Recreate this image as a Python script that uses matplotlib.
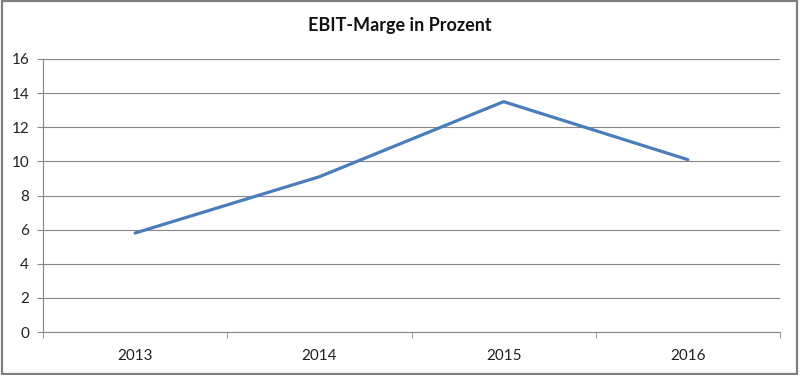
import matplotlib.pyplot as plt
from matplotlib.patches import Rectangle

plt.rcParams['font.family'] = ['Lato', 'DejaVu Sans']

years = ['2013', '2014', '2015', '2016']
marge = [5.8, 9.1, 13.5, 10.1]
yticks = [0, 2, 4, 6, 8, 10, 12, 14, 16]

fig = plt.figure(figsize=(8, 3.75), dpi=100)
# plot area in figure coords (pixels: x 43..780, y 59..332)
ax = fig.add_axes([43 / 800, 1 - 332 / 375, (780 - 43) / 800, (332 - 59) / 375])

x = range(len(years))
ax.plot(x, marge, color='#4A7EBB', lw=2.3, solid_capstyle='round')

ax.set_xlim(-0.5, len(years) - 0.5)
ax.set_ylim(0, 16)
ax.set_yticks(yticks)
ax.set_yticklabels([str(v) for v in yticks])
ax.set_xticks(list(x))
ax.set_xticklabels(years)
ax.set_xticks([i - 0.5 for i in range(len(years) + 1)], minor=True)

ax.grid(axis='y', color='#868686', lw=0.8)
ax.set_axisbelow(True)
for s in ['top', 'right']:
    ax.spines[s].set_visible(False)
for s in ['left', 'bottom']:
    ax.spines[s].set_color('#868686')
    ax.spines[s].set_linewidth(0.8)

ax.tick_params(axis='y', length=4, color='#868686', labelsize=11, pad=6, labelcolor='#222222')
ax.tick_params(axis='x', which='major', length=0, labelsize=11, pad=12, labelcolor='#222222')
ax.tick_params(axis='x', which='minor', length=4, color='#868686')

fig.text(0.5, 1 - 26 / 375, 'EBIT-Marge in Prozent', ha='center', va='center',
         fontsize=13, fontweight='bold', color='#111111')

# outer frame
fig.patches.append(Rectangle((0.002, 0.004), 0.994, 0.993, transform=fig.transFigure,
                             fill=False, edgecolor='#7F7F7F', lw=1.6))

fig.savefig('out.png', dpi=100)
